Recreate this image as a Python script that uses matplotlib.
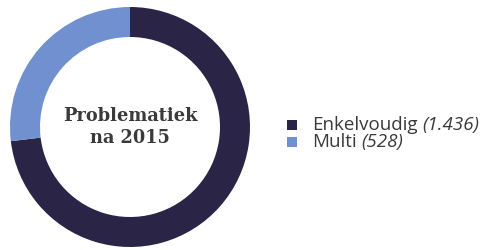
import matplotlib
matplotlib.use("Agg")
from matplotlib import pyplot as plt
from matplotlib.patches import Rectangle

categorieen = ["Enkelvoudig", "Multi"]
aantallen = [1436, 528]
aantal_labels = ["(1.436)", "(528)"]
kleuren = ["#2a2446", "#7190cf"]
titel = "Problematiek\nna 2015"

fig = plt.figure(figsize=(4.94, 2.5), dpi=100)
ax = fig.add_axes([10 / 494, 3 / 250, 240 / 494, 240 / 250])

wedges, _ = ax.pie(aantallen, colors=kleuren, startangle=90, counterclock=False,
                   radius=1, wedgeprops=dict(width=0.25, linewidth=0))
ax.set_xlim(-1, 1)
ax.set_ylim(-1, 1)

ax.text(0, 0, titel, ha='center', va='center', fontsize=12.8,
        family='DejaVu Serif', fontweight='bold', color='#3a3a3a', linespacing=1.3)

# legenda handmatig: vierkantje, naam, aantal cursief
renderer = fig.canvas.get_renderer()
y0 = 1 - 125 / 250
dy = 17 / 250
for i, (naam, aantal) in enumerate(zip(categorieen, aantal_labels)):
    y = y0 - i * dy
    fig.patches.append(Rectangle((287 / 494, y - 5 / 250), 10 / 494, 10 / 250,
                                 transform=fig.transFigure, color=kleuren[i], linewidth=0))
    t = fig.text(312 / 494, y, naam, ha='left', va='center', family='Open Sans',
                 fontsize=13.5, color='#3a3a3a')
    bb = t.get_window_extent(renderer)
    fig.text((bb.x1 + 5) / 494, y, aantal, ha='left', va='center', family='Open Sans',
             style='italic', fontsize=13.5, color='#3a3a3a')

fig.savefig("out.png", dpi=100)
